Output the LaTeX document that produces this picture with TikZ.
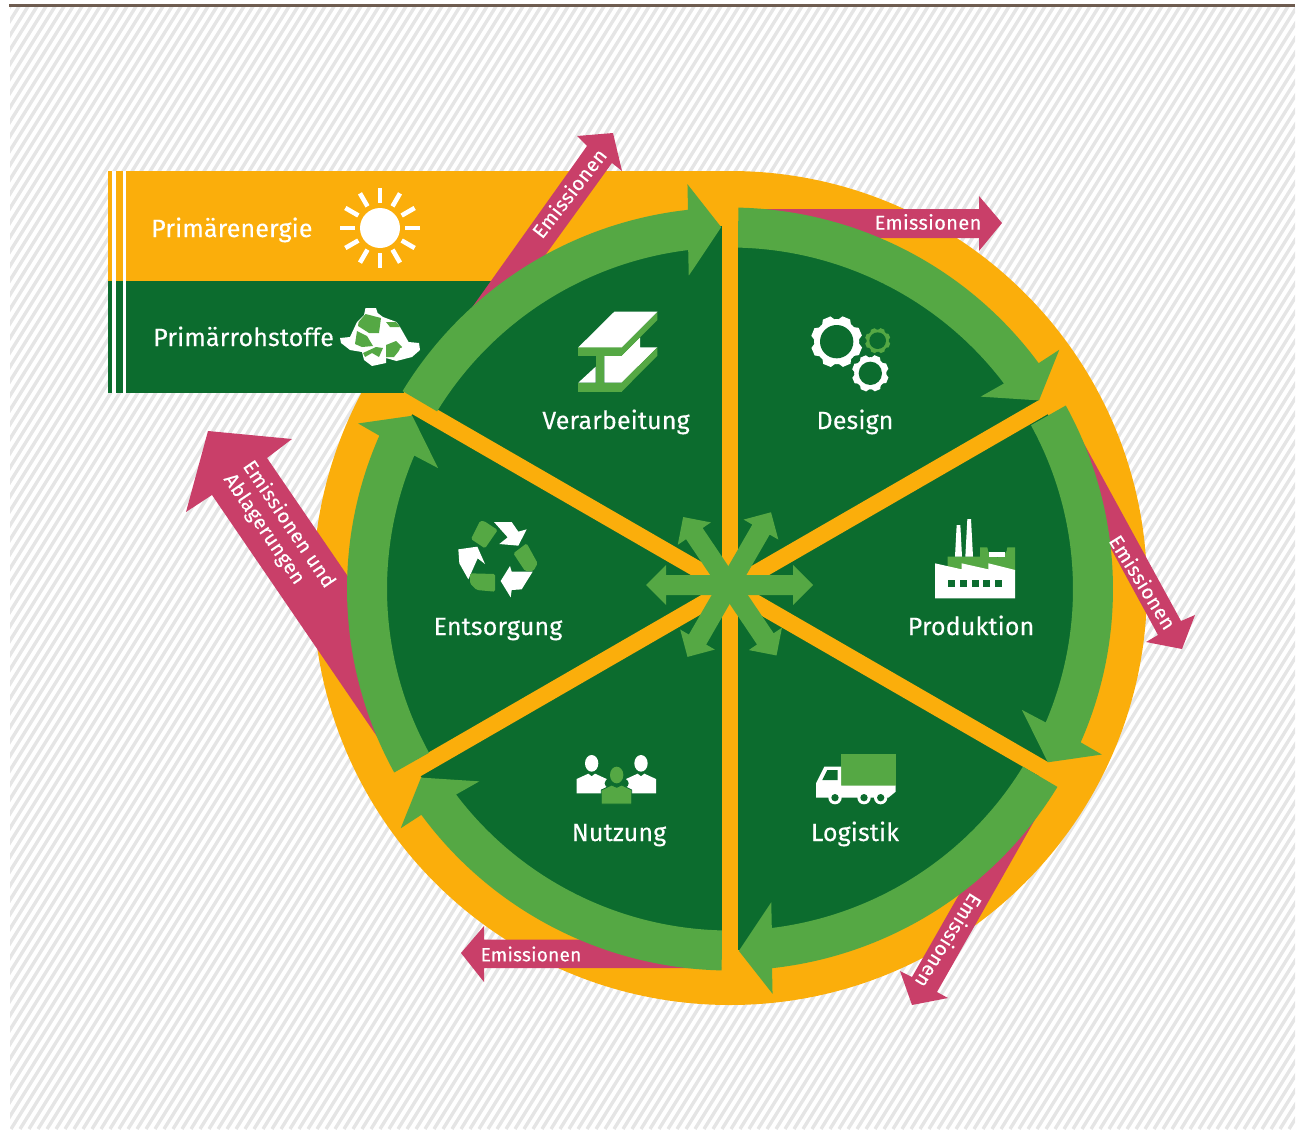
\documentclass[tikz,border=0pt]{standalone}
\usepackage{fontspec}
\setmainfont{Fira Sans}
\definecolor{orangeC}{HTML}{FBAE0B}
\definecolor{darkC}{HTML}{0C6C2E}
\definecolor{midC}{HTML}{55A844}
\definecolor{redC}{HTML}{C93F69}
\definecolor{lineC}{HTML}{6E5C50}
\tikzset{
	lbl/.style={text=white,anchor=base,inner sep=0pt,font=\fontsize{25}{28}\selectfont\addfontfeature{LetterSpace=0.6,FakeBold=0.25}},
	emis/.style={text=white,inner sep=0pt,font=\fontsize{20}{23}\selectfont\addfontfeature{LetterSpace=1.8,FakeBold=0.2}},
	redarrow/.style={fill=redC},
}
\begin{document}
\begin{tikzpicture}[x=1pt,y=1pt,yscale=-1,line join=round]
	\def\rD{417}
	\useasboundingbox (0,0) rectangle (1297,1129);
	\begin{scope}
		\clip (10,8) rectangle (1295,1129);
		\foreach \x in {-700,-691,...,1300}
		\draw[line width=3.4pt,color=black!10] (\x,1129)--(\x+705,0);
	\end{scope}
	\draw[line width=2.2pt,color=lineC] (9,5.5)--(1295,5.5);
	% disc and bands
	\fill[orangeC] (730,588) circle (\rD);
	\fill[orangeC] (108,171) rectangle (730,281);
	\fill[darkC] (108,281) rectangle (620,393);
	\foreach \x/\w in {112/4,122.7/3} {
		\fill[white] (\x,171) rectangle (\x+\w,393);
	}
	\begin{scope}[shift={(730,588)}]
		\fill[darkC] (0,0) circle (362);
		\foreach \a in {-90,-30,30,90,150,210}
		\fill[orangeC,rotate=\a] (0,-8.3) rectangle (380,8.3);
	\end{scope}
	% emission arrows
	\fill[redarrow] (461,323)--(520,290)--(612,163)--(622,171)--(613,133)--(577,136)--(587,146)--cycle;
	\fill[redarrow] (738,209)--(979,209)--(979,196)--(1002,223)--(979,251)--(979,238)--(850,238)--cycle;
	\fill[redarrow] (1082,440)--(1181,621)--(1195,615)--(1182,649)--(1146,642)--(1158,635)--(1090,510)--cycle;
	\fill[redarrow] (1037,816)--(937,992)--(948,998)--(912,1005)--(900,971)--(912,977)--(985,849)--cycle;
	\fill[redarrow] (722,968)--(484,968)--(484,982)--(461,953)--(484,926)--(484,939.5)--(640,939.5)--cycle;
	\fill[redarrow] (378,738)--(212,495)--(186,512)--(208,431)--(292,439)--(267,458)--(362,597)--cycle;
	% ring and centre star
	\begin{scope}[shift={(730,589)}]
		\foreach \a in {-90,-30,30,90,150,210}
		\fill[midC] (\a+1.25:383 and 381.5) arc[start angle=\a+1.25,end angle=\a+53.7,x radius=383,y radius=381.5]
		--(\a+54:407)--(\a+58.6:362)--(\a+52.5:316)--(\a+53:343 and 341.5)
		arc[start angle=\a+53,end angle=\a+1.34,x radius=343,y radius=341.5]--cycle;
	\end{scope}
	\begin{scope}[shift={(729,585)}]
		\foreach \a/\l in {0/84,180/83,-60/84,-124/82,120/83,56/85}
		\fill[midC,rotate=\a] (0,-10)--(\l-20,-10)--(\l-20,-20)--(\l,0)--(\l-20,20)--(\l-20,10)--(0,10)--cycle;
		\fill[midC] (0,0) circle (16);
	\end{scope}
	% labels
	\node[lbl,anchor=base west] (energie) at (151,237) {Primärenergie};
	\node[lbl,anchor=base west] (rohstoffe) at (153,346) {Primärrohstoffe};
	\foreach \n/\x/\y/\t in {verarbeitung/616/429/Verarbeitung,design/855/429/Design,produktion/971/635/Produktion,logistik/855/841/Logistik,nutzung/619/841/Nutzung,entsorgung/498/635/Entsorgung}
	\node[lbl] (\n) at (\x,\y) {\t};
	\node[emis,rotate=52] (emA) at (569,193) {Emissionen};
	\node[emis] (emB) at (928,222) {Emissionen};
	\node[emis,rotate=-58] (emC) at (1143,582) {Emissionen};
	\node[emis,rotate=-122] (emD) at (949,941) {Emissionen};
	\node[emis,font=\fontsize{19}{22}\selectfont\addfontfeature{LetterSpace=1.4,FakeBold=0.2}] (emE) at (531,954) {Emissionen};
	\node[emis,rotate=-56,align=left] (emF) at (279,531) {Emissionen und\\Ablagerungen};
	% sun
	\fill[white] (380,228) circle (20);
	\foreach \a in {0,30,...,330}
	\draw[white,line width=4.6pt,rotate around={\a:(380,228)}] (405,228)--(420,228);
	% rocks
	\fill[white] (365.5,308)--(376,308)--(377.6,313)--(383,317)--(396.5,322)--(400,327)--(408.6,342)--(419,343)--(420,350)--(412,357)--(396.5,361)--(386,358)--(386,363)--(372,366)--(364,360)--(362,352)--(350,350)--(341,343)--(340,338)--(350,337)--(357,322)--(364,315)--cycle;
	\fill[midC] (358.6,322)--(365.5,314)--(381,318)--(379,333)--(369,333)--(358,326)--cycle;
	\fill[midC] (386,322)--(396,322)--(400,327)--(390,327)--cycle;
	\fill[midC] (357,331)--(367,336)--(373,346)--(362,347)--(355,344)--cycle;
	\fill[midC] (376,347)--(383,348)--(379,357)--(372,353)--(365,357)--(363,353)--cycle;
	\fill[midC] (386,345)--(396,341)--(402,347)--(398,352)--(394,357)--(386,357)--cycle;
	\fill[white] (400,348)--(409,352)--(397,360)--cycle;
	% beam
	\begin{scope}[shift={(560,300)},scale=1/3]
		\fill[white] (133,167)--(185,167)--(240,112)--(240,142)--(292,142)--(185,248)--(133,248)--cycle;
		\fill[white] (55,248)--(107,200)--(107,248)--cycle;
		\fill[midC] (107,167) rectangle (133,248);
		\fill[midC] (55,248) rectangle (185,275);
		\fill[midC] (185,248)--(292,142)--(292,167)--(185,275)--cycle;
		\fill[midC] (55,142) rectangle (185,167);
		\fill[midC] (185,142)--(292,35)--(292,60)--(185,167)--cycle;
		\fill[white] (163,35)--(292,35)--(185,142)--(55,142)--cycle;
	\end{scope}
	% gears and factory
	\begin{scope}[shift={(780,300)},scale=1/3]
		\foreach \cx/\cy/\ro/\ri/\col in {170/125/77/50/white,293/122/38/25/midC,271/220/55/35/white} {
			\fill[\col] (\cx,\cy) circle (\ro*0.88);
			\foreach \t in {0,45,...,315}
			\fill[\col,shift={(\cx,\cy)},rotate=\t+22] (\ro*0.8,-\ro*0.28)--(\ro,-\ro*0.16)--(\ro,\ro*0.16)--(\ro*0.8,\ro*0.28)--cycle;
			\fill[darkC] (\cx,\cy) circle (\ri);
		}
		\fill[midC] (503,798)--(503,770)--(600,770)--(600,742)--(622,742) arc[start angle=180,end angle=0,radius=30]--(705,742)--(705,815)--(503,815)--cycle;
		\fill[white] (627,755) rectangle (675,771);
		\fill[white] (525,770)--(530,675)--(541,675)--(546,770)--cycle;
		\fill[white] (556,770)--(562,657)--(573,657)--(579,770)--cycle;
		\fill[white] (465,790)--(545,808)--(545,790)--(625,808)--(625,790)--(705,810)--(705,895)--(465,895)--cycle;
		\foreach \x in {503,540,575,610,645}
		\fill[darkC] (\x,840) rectangle (\x+21,860);
	\end{scope}
	% recycling and people
	\begin{scope}[shift={(440,500)},scale=1/3]
		\fill[white] (162,66)--(215,66)--(235,95)--(260,88)--(235,137)--(178,132)--(203,112)--cycle;
		\fill[white] (55,148)--(112,140)--(135,192)--(113,175)--(85,238)--(58,190)--cycle;
		\fill[white] (210,198)--(215,215)--(278,215)--(245,268)--(215,270)--(212,292)--(182,243)--cycle;
		\fill[midC,rounded corners=1.5pt] (132,63)--(173,90)--(135,145)--(93,117)--(120,63)--cycle;
		\fill[midC,rounded corners=1.5pt] (260,130)--(293,190)--(280,213)--(255,213)--(220,160)--cycle;
		\fill[midC,rounded corners=1.5pt] (90,220)--(165,222)--(165,275)--(110,270)--(90,250)--cycle;
		\foreach \x in {455,603} {
			\fill[white] (\x,790) ellipse (20 and 25);
			\fill[white] (\x-45,880)--(\x-45,837)--(\x-10,821)--(\x,829)--(\x+10,821)--(\x+45,837)--(\x+45,880)--cycle;
		}
		\fill[darkC] (530,850) ellipse (36 and 20);
		\fill[midC] (530,825) ellipse (20 and 25);
		\fill[midC,draw=darkC,line width=0.8pt] (484,912)--(484,870)--(515,855)--(530,862)--(545,855)--(575,870)--(575,912)--cycle;
	\end{scope}
	% truck
	\begin{scope}[shift={(790,730)},scale=1/3]
		\fill[midC] (153,72) rectangle (317,167);
		\fill[white] (78,160)--(103,110)--(153,110)--(153,167)--(317,167)--(317,185)--(295,203)--(78,203)--cycle;
		\fill[darkC] (97,150)--(112,120)--(143,120)--(143,150)--cycle;
		\foreach \x in {135,222,272} {
			\fill[white] (\x,203) circle (20);
			\fill[darkC] (\x,203) circle (11);
		}
	\end{scope}
\end{tikzpicture}
\end{document}
